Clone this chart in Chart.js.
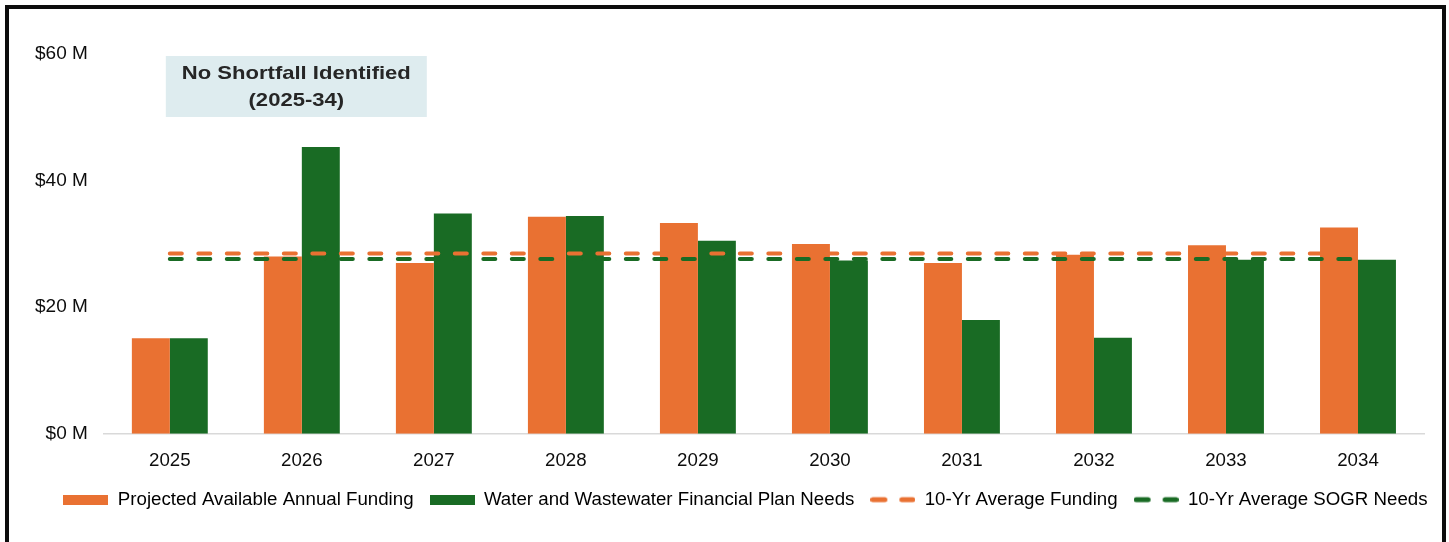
<!DOCTYPE html>
<html>
<head>
<meta charset="utf-8">
<script src="https://cdn.jsdelivr.net/npm/chart.js@4.4.1/dist/chart.umd.min.js"></script>
<style>
  html, body { margin: 0; padding: 0; background: #fff; overflow: hidden; }
  #frame {
    position: absolute; left: 5px; top: 5px;
    width: 1441px; height: 600px;
    box-sizing: border-box; border: 4px solid #0d0d0d;
  }
  #wrap { position: absolute; left: 9px; top: 9px; width: 1433px; height: 533px; }
</style>
</head>
<body>
<div id="frame"></div>
<div id="wrap"><canvas id="myChart"></canvas></div>
<script>
const years = ["2025", "2026", "2027", "2028", "2029", "2030", "2031", "2032", "2033", "2034"];
// $ millions
const fundingData = [15.1, 28.0, 27.0, 34.3, 33.3, 30.0, 27.0, 28.3, 29.8, 32.6];
const needsData = [15.1, 45.3, 34.8, 34.4, 30.5, 27.4, 18.0, 15.2, 27.5, 27.5];
const avgFundingData = [28.5, 28.5, 28.5, 28.5, 28.5, 28.5, 28.5, 28.5, 28.5, 28.5];
const avgNeedsData = [27.6, 27.6, 27.6, 27.6, 27.6, 27.6, 27.6, 27.6, 27.6, 27.6];
const yTicks = [0, 20, 40, 60];
const noteLines = ["No Shortfall Identified", "(2025-34)"];

const ORANGE = "#E97132";
const GREEN = "#196B24";
const FONT = "'Liberation Sans', Arial, sans-serif";

// legend swatches
function rectSwatch(color) {
  const c = document.createElement("canvas");
  c.width = 45; c.height = 10;
  const ctx = c.getContext("2d");
  ctx.fillStyle = color;
  ctx.fillRect(0, 0, 45, 10);
  return c;
}
function dashSwatch(color) {
  const c = document.createElement("canvas");
  c.width = 45; c.height = 10;
  const ctx = c.getContext("2d");
  ctx.strokeStyle = color;
  ctx.lineWidth = 5;
  ctx.lineCap = "round";
  ctx.beginPath();
  ctx.moveTo(2.5, 5); ctx.lineTo(14.5, 5);
  ctx.moveTo(31.5, 5); ctx.lineTo(42.5, 5);
  ctx.stroke();
  return c;
}
const swatches = [rectSwatch(ORANGE), rectSwatch(GREEN), dashSwatch(ORANGE), dashSwatch(GREEN)];

// light blue note box near the top left
const notePlugin = {
  id: "noteBox",
  afterLayout(chart) {
    // legend in the original sits a little right of centre
    chart.legend.left += 24;
    chart.legend.right += 24;
  },
  beforeDatasetsDraw(chart) {
    const { ctx, chartArea, scales } = chart;
    const left = scales.x.getPixelForValue(0) - 4;
    const width = 261;
    const top = chartArea.top + 2;
    const height = 61;
    const cx = left + width / 2;
    ctx.save();
    ctx.fillStyle = "#DEECEF";
    ctx.fillRect(left, top, width, height);
    ctx.fillStyle = "#262626";
    ctx.font = "bold 18.5px " + FONT;
    ctx.textAlign = "center";
    ctx.textBaseline = "middle";
    // the original text is a bit wider than Liberation Sans bold
    const stretch = 229 / ctx.measureText(noteLines[0]).width;
    [18, 45].forEach((dy, i) => {
      ctx.save();
      ctx.translate(cx, top + dy);
      ctx.scale(stretch, 1);
      ctx.fillText(noteLines[i], 0, 0);
      ctx.restore();
    });
    ctx.restore();
  }
};

new Chart(document.getElementById("myChart"), {
  type: "bar",
  data: {
    labels: years,
    datasets: [
      {
        label: "Projected Available Annual Funding",
        data: fundingData,
        backgroundColor: ORANGE,
        borderWidth: 0,
        categoryPercentage: 0.575,
        barPercentage: 1.0,
        order: 2,
      },
      {
        label: "Water and Wastewater Financial Plan Needs",
        data: needsData,
        backgroundColor: GREEN,
        borderWidth: 0,
        categoryPercentage: 0.575,
        barPercentage: 1.0,
        order: 2,
      },
      {
        type: "line",
        label: "10-Yr Average Funding",
        data: avgFundingData,
        borderColor: ORANGE,
        borderWidth: 4,
        borderDash: [12, 16.5],
        borderCapStyle: "round",
        pointRadius: 0,
        fill: false,
        order: 1,
      },
      {
        type: "line",
        label: "10-Yr Average SOGR Needs",
        data: avgNeedsData,
        borderColor: GREEN,
        borderWidth: 4,
        borderDash: [12, 16.5],
        borderCapStyle: "round",
        pointRadius: 0,
        fill: false,
        order: 1,
      },
    ],
  },
  options: {
    responsive: true,
    maintainAspectRatio: false,
    animation: false,
    layout: { padding: { left: 10, right: 18, top: 45, bottom: 23 } },
    plugins: {
      tooltip: { enabled: false },
      legend: {
        position: "bottom",
        labels: {
          usePointStyle: true,
          pointStyleWidth: 45,
          boxHeight: 10,
          padding: 16,
          color: "#0d0d0d",
          font: { family: FONT, size: 18.7 },
          generateLabels(chart) {
            return chart.data.datasets.map((ds, i) => ({
              text: ds.label,
              pointStyle: swatches[i],
              fillStyle: "transparent",
              strokeStyle: "transparent",
              lineWidth: 0,
              hidden: false,
              datasetIndex: i,
            }));
          },
        },
      },
    },
    scales: {
      x: {
        grid: { display: false, drawTicks: false },
        border: { display: true, color: "#d9d9d9", width: 1.5 },
        ticks: { padding: 16, color: "#0d0d0d", font: { family: FONT, size: 18.7 } },
        afterFit(scale) { scale.height -= 14; },
      },
      y: {
        min: 0,
        max: 60,
        afterBuildTicks(axis) { axis.ticks = yTicks.map(v => ({ value: v })); },
        grid: { display: false, drawTicks: false },
        border: { display: false },
        ticks: {
          padding: 16,
          color: "#0d0d0d",
          font: { family: FONT, size: 19 },
          callback: v => "$" + v + " M",
        },
      },
    },
  },
  plugins: [notePlugin],
});
</script>
</body>
</html>
